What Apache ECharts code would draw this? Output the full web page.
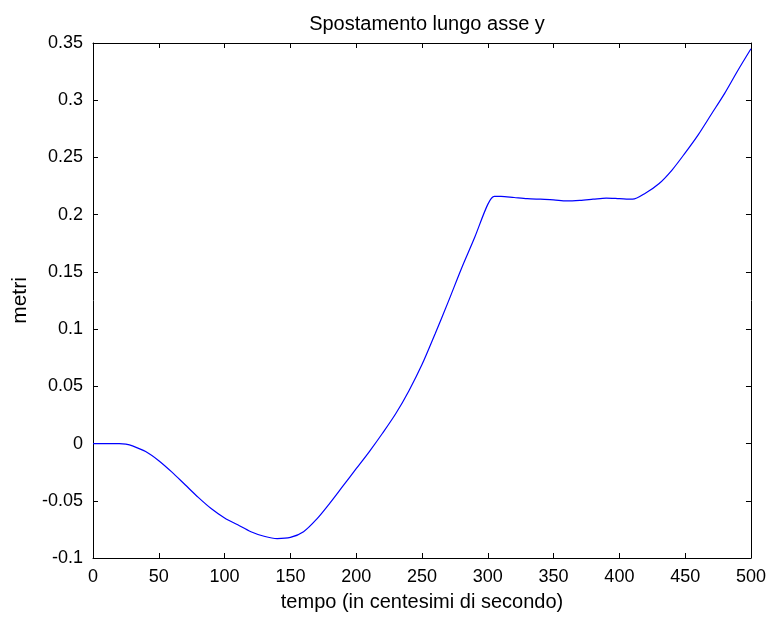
<!DOCTYPE html>
<html>
<head>
<meta charset="utf-8">
<script src="https://cdn.jsdelivr.net/npm/echarts@6/dist/echarts.min.js"></script>
<style>
html,body{margin:0;padding:0;background:#fff;}
#c{width:769px;height:617px;}
</style>
</head>
<body>
<div id="c"></div>
<script>
var titleText = 'Spostamento lungo asse y';
var xName = 'tempo (in centesimi di secondo)';
var yName = 'metri';
var tempo = [0,10,20,25,30,40,50,60,70,80,90,100,110,120,130,140,150,160,170,180,190,200,210,220,230,240,250,260,270,280,290,300,305,310,320,330,340,350,360,370,380,390,400,410,420,430,440,450,460,470,480,490,500];
var metri = [0,0,0,-0.0005,-0.002,-0.007,-0.015,-0.025,-0.036,-0.047,-0.057,-0.065,-0.071,-0.077,-0.081,-0.083,-0.082,-0.077,-0.066,-0.052,-0.037,-0.022,-0.007,0.009,0.026,0.046,0.069,0.096,0.124,0.153,0.180,0.209,0.216,0.216,0.215,0.214,0.2135,0.213,0.212,0.2125,0.2135,0.2145,0.214,0.2135,0.219,0.227,0.239,0.254,0.270,0.288,0.306,0.326,0.345];
var xTicks = [0,50,100,150,200,250,300,350,400,450,500];
var yTicks = [-0.1,-0.05,0,0.05,0.1,0.15,0.2,0.25,0.3,0.35];

var FONT = '"Liberation Sans", Arial, sans-serif';
var data = tempo.map(function(t,i){return [t, metri[i]];});
var chart = echarts.init(document.getElementById('c'));
var axisLine = {show:true, onZero:false, lineStyle:{color:'#000', width:1}};
var tick = {show:true, inside:true, length:5, lineStyle:{color:'#000', width:1}};
chart.setOption({
  animation:false,
  backgroundColor:'#fff',
  title:{text:titleText, left:422, top:9, textAlign:'center',
    textStyle:{fontFamily:FONT, fontSize:20, fontWeight:'normal', color:'#000'}},
  grid:{left:93, right:18, top:43, bottom:57, containLabel:false},
  xAxis:[{
    type:'value', min:0, max:500, interval:50, position:'bottom',
    name:xName, nameLocation:'middle', nameGap:34,
    nameTextStyle:{fontFamily:FONT, fontSize:20, color:'#000'},
    axisLine:axisLine, axisTick:tick, splitLine:{show:false},
    axisLabel:{fontFamily:FONT, fontSize:18, color:'#000', margin:10,
      formatter:function(v){return xTicks.indexOf(v)>=0 ? String(v) : '';}}
  },{
    type:'value', min:0, max:500, interval:50, position:'top',
    axisLine:axisLine, axisTick:tick, splitLine:{show:false}, axisLabel:{show:false}
  }],
  yAxis:[{
    type:'value', min:-0.1, max:0.35, interval:0.05, position:'left',
    name:yName, nameLocation:'middle', nameGap:62, nameRotate:90,
    nameTextStyle:{fontFamily:FONT, fontSize:21, color:'#000'},
    axisLine:axisLine, axisTick:tick, splitLine:{show:false},
    axisLabel:{fontFamily:FONT, fontSize:18, color:'#000', margin:10,
      formatter:function(v){
        var r = Math.round(v*100)/100;
        for (var i=0;i<yTicks.length;i++){ if (Math.abs(yTicks[i]-r)<1e-9) return String(yTicks[i]); }
        return '';
      }}
  },{
    type:'value', min:-0.1, max:0.35, interval:0.05, position:'right',
    axisLine:axisLine, axisTick:tick, splitLine:{show:false}, axisLabel:{show:false}
  }],
  series:[{
    type:'line', data:data, xAxisIndex:0, yAxisIndex:0,
    showSymbol:false, smooth:0.3,
    lineStyle:{color:'#0000ff', width:1.2}
  }]
});
</script>
</body>
</html>
